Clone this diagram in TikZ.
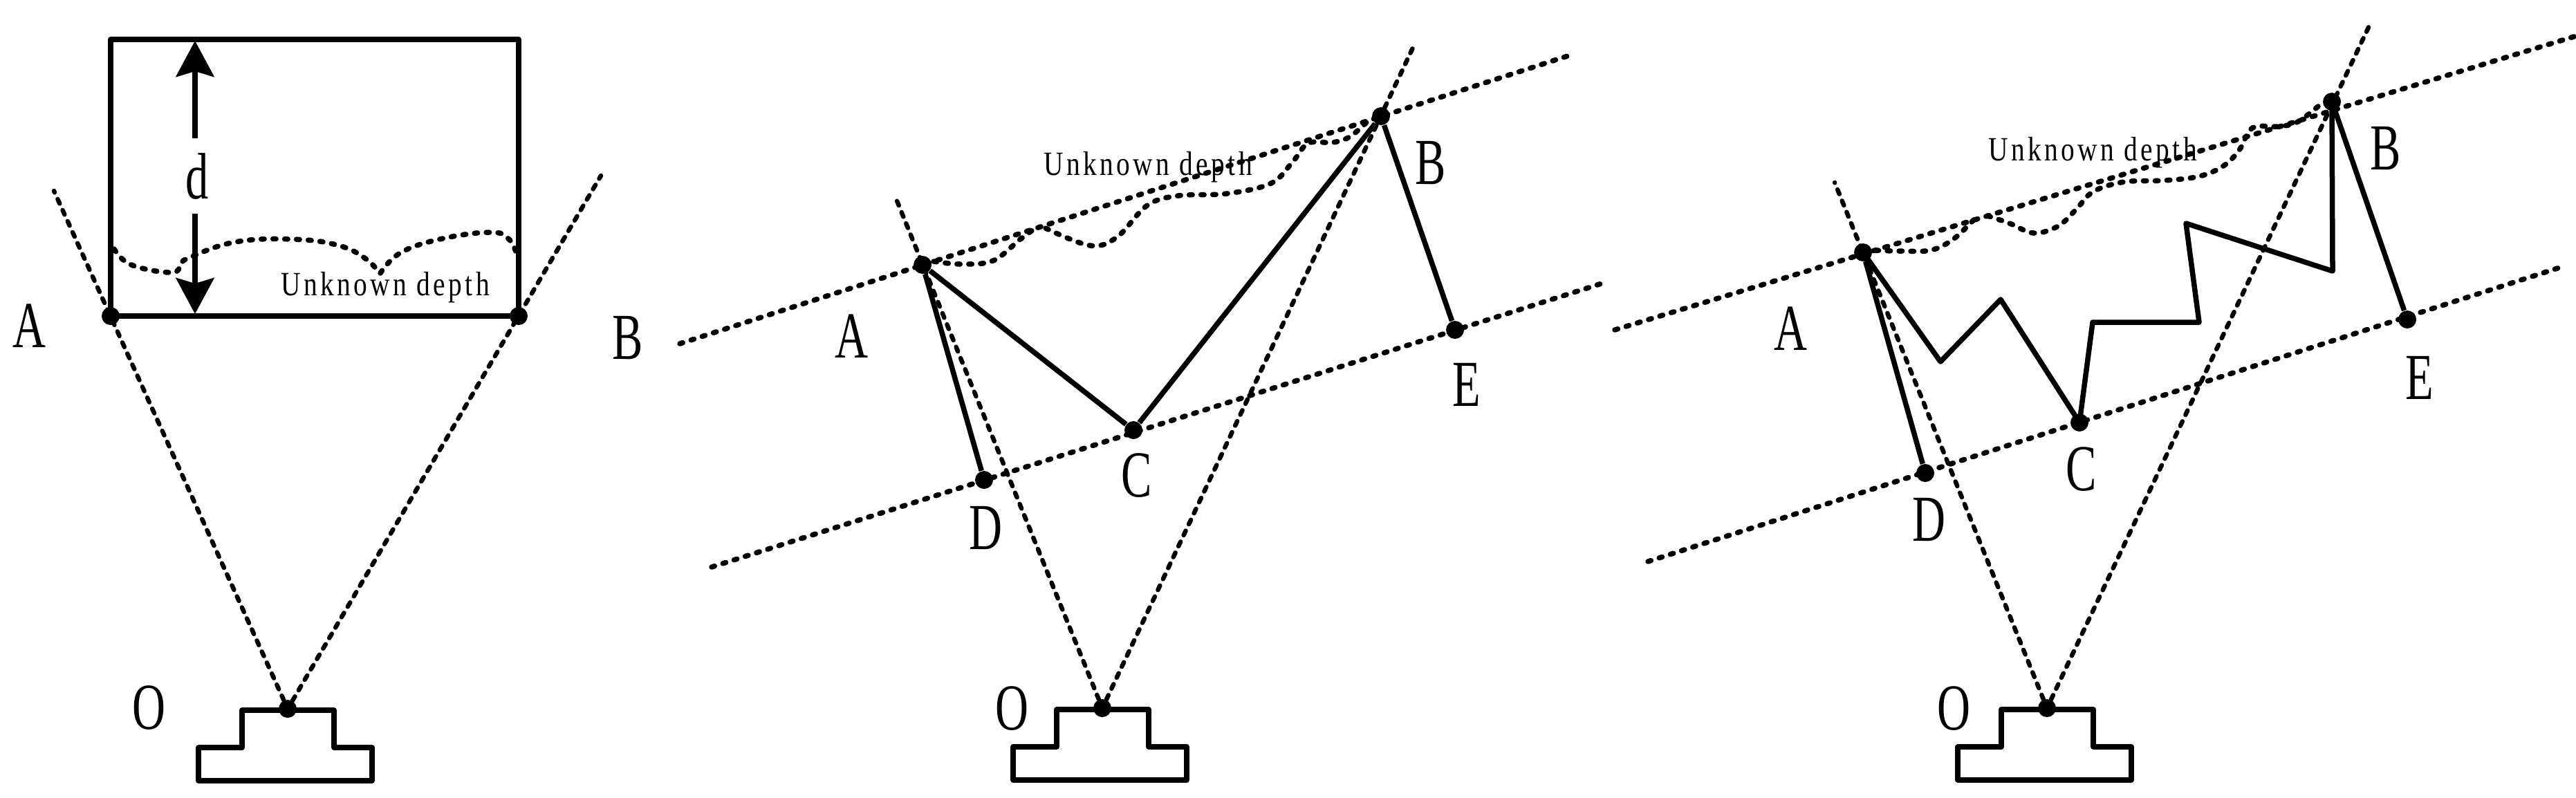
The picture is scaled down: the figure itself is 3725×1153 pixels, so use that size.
\documentclass[tikz,border=0pt]{standalone}
\usepackage{fontspec}
\usetikzlibrary{arrows.meta}
\newfontfamily\lblfont[FakeStretch=.7]{Liberation Serif}
\newfontfamily\depthfont[FakeStretch=.8,LetterSpace=9]{Liberation Serif}
\begin{document}
\begin{tikzpicture}
            [x=.01cm,y=-.01cm,line join=round,
            dot/.style={circle,fill=black,inner sep=0pt,minimum size=.26cm},
            lbl/.style={inner sep=0pt,font=\lblfont\fontsize{27}{27}\selectfont},
            depthlbl/.style={inner sep=0pt,font=\depthfont\fontsize{14}{14}\selectfont},
            solid line/.style={line width=.075cm},
            ray/.style={line width=.065cm,line cap=round,dash pattern=on .07cm off .105cm},
            dotline/.style={line width=.075cm,line cap=round,dash pattern=on .045cm off .125cm},
            dimarrow/.style={line width=.075cm,-{Stealth[length=.52cm,width=.55cm,inset=.08cm]}}]
            \useasboundingbox (0,0) rectangle (3725,1153);
            % left
            \node[dot] (a1) at (160,457) {};
            \node[dot] (b1) at (750,457) {};
            \node[dot] (o1) at (416,1025) {};
            \coordinate (ra1) at (78,276);
            \coordinate (rb1) at (869,254);
            \coordinate (tl1) at (160,57);
            \coordinate (tr1) at (750,57);
            \coordinate (dt1) at (282,59);
            \coordinate (db1) at (282,454);
            \node[lbl] (la1) at (42,471) {A};
            \node[lbl] (lb1) at (908,489) {B};
            \node[lbl] (lo1) at (215,1023) {O};
            \node[lbl] (d1) at (285,255) {d};
            \node[depthlbl] (u1) at (557,416) {Unknown depth};
            \draw[solid line] (a1.center) -- (tl1) -- (tr1) -- (b1.center) -- cycle;
            \draw[dimarrow] (282,200) -- (dt1);
            \draw[dimarrow] (282,309) -- (db1);
            \draw[ray] (o1) -- (ra1);
            \draw[ray] (o1) -- (rb1);
            \draw[dotline] plot[smooth,tension=.7] coordinates {(165,360) (190,383) (248,394) (262,382) (273,373) (340,350) (424,346) (490,355) (530,375) (548,395)};
            \draw[dotline] plot[smooth,tension=.7] coordinates {(550,395) (580,365) (640,345) (709,336) (735,345) (747,367)};
            % middle
            \node[dot] (a2) at (1334,383) {};
            \node[dot] (b2) at (1997,168) {};
            \node[dot] (c2) at (1639,622) {};
            \node[dot] (d2) at (1423,694) {};
            \node[dot] (e2) at (2104,477) {};
            \node[dot] (o2) at (1594,1024) {};
            \coordinate (ra2) at (1294,283);
            \coordinate (rb2) at (2044,67);
            \coordinate (ts2) at (983,497);
            \coordinate (te2) at (2276,78);
            \coordinate (ls2) at (1029,820);
            \coordinate (lf2) at (2319,409);
            \node[lbl] (la2) at (1231,486) {A};
            \node[lbl] (lb2) at (2069,236) {B};
            \node[lbl] (lc2) at (1644,687) {C};
            \node[lbl] (ld2) at (1425,763) {D};
            \node[lbl] (le2) at (2121,556) {E};
            \node[lbl] (lo2) at (1463,1024) {O};
            \node[depthlbl] (u2) at (1660,242) {Unknown depth};
            \foreach \from/\to in {a2/d2,a2/c2,c2/b2,b2/e2}
            \draw[solid line] (\from) -- (\to);
            \draw[ray] (o2) -- (ra2);
            \draw[ray] (o2) -- (rb2);
            \draw[dotline] (ts2) -- (te2);
            \draw[dotline] (ls2) -- (lf2);
            \draw[dotline] plot[smooth,tension=.6] coordinates {(1350,378) (1391,382) (1436,377) (1474,347) (1497,330)};
            \draw[dotline] plot[smooth,tension=.6] coordinates {(1512,330) (1576,355) (1615,343) (1659,297) (1704,283) (1774,280) (1838,265) (1870,233) (1892,207) (1927,206) (1953,197) (1981,172)};
            % right
            \node[dot] (a3) at (2694,365) {};
            \node[dot] (b3) at (3372,147) {};
            \node[dot] (c3) at (3007,611) {};
            \node[dot] (d3) at (2784,684) {};
            \node[dot] (e3) at (3481,462) {};
            \node[dot] (o3) at (2960,1024) {};
            \coordinate (ra3) at (2653,264);
            \coordinate (rb3) at (3428,33);
            \coordinate (ts3) at (2335,477);
            \coordinate (te3) at (3725,52);
            \coordinate (ls3) at (2383,812);
            \coordinate (lf3) at (3701,387);
            \coordinate (z1) at (2806,523);
            \coordinate (z2) at (2893,433);
            \coordinate (z3) at (3026,466);
            \coordinate (z4) at (3180,466);
            \coordinate (z5) at (3161,323);
            \coordinate (z6) at (3373,392);
            \node[lbl] (la3) at (2589,475) {A};
            \node[lbl] (lb3) at (3450,215) {B};
            \node[lbl] (lc3) at (3010,679) {C};
            \node[lbl] (ld3) at (2789,751) {D};
            \node[lbl] (le3) at (3499,546) {E};
            \node[lbl] (lo3) at (2825,1024) {O};
            \node[depthlbl] (u3) at (3026,221) {Unknown depth};
            \foreach \from/\to in {a3/d3,b3/e3}
            \draw[solid line] (\from) -- (\to);
            \draw[solid line] (a3.center) -- (z1) -- (z2) -- (c3.center) -- (z3) -- (z4) -- (z5) -- (z6) -- (b3.center);
            \draw[ray] (o3) -- (ra3);
            \draw[ray] (o3) -- (rb3);
            \draw[dotline] (ts3) -- (te3);
            \draw[dotline] (ls3) -- (lf3);
            \draw[dotline] plot[smooth,tension=.6] coordinates {(2712,362) (2747,363) (2791,362) (2823,347) (2852,320) (2861,310)};
            \draw[dotline] plot[smooth,tension=.6] coordinates {(2874,312) (2906,323) (2941,337) (2976,327) (3002,303) (3027,277) (3072,263) (3129,261) (3180,255) (3215,240) (3238,217) (3257,185) (3292,183) (3321,177) (3353,153)};
            % cameras
            \foreach \n in {o1,o2,o3}
            \draw[solid line] (\n) ++(-129,104) -- ++(0,-48) -- ++(63,0) -- ++(0,-54) -- ++(133,0) -- ++(0,54) -- ++(55,0) -- ++(0,48) -- cycle;
        \end{tikzpicture}
\end{document}
